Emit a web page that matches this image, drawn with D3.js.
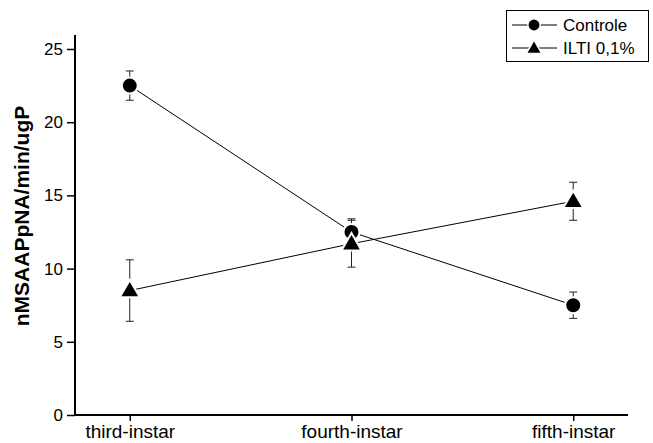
<!DOCTYPE html>
<html>
<head>
<meta charset="utf-8">
<script src="https://cdn.jsdelivr.net/npm/d3@7"></script>
<style>
  body { margin: 0; background: #fff; }
  text { font-family: "Liberation Sans", Arial, sans-serif; fill: #000; }
</style>
</head>
<body>
<div class="chart"></div>
<script>
// Data
const stages = ["third-instar", "fourth-instar", "fifth-instar"];
const controleValues = [22.5, 12.5, 7.5];
const controleErrors = [1.0, 0.9, 0.9];
const iltiValues = [8.5, 11.7, 14.6];
const iltiErrors = [2.1, 1.6, 1.3];
const yTicks = [0, 5, 10, 15, 20, 25];

const width = 653, height = 443;
const margin = { left: 75, right: 25, top: 35, bottom: 29 };

const svg = d3.select(".chart")
  .append("svg")
  .attr("width", width)
  .attr("height", height);

const x = d3.scalePoint()
  .domain(stages)
  .range([margin.left, width - margin.right])
  .padding(0.247);

const y = d3.scaleLinear()
  .domain([0, 26])
  .range([415, 415 - 26 * 14.64]);

// Axes
const yAxis = svg.append("g")
  .attr("transform", `translate(${margin.left},0)`)
  .call(d3.axisLeft(y).tickValues(yTicks).tickSize(8).tickPadding(4));
yAxis.select(".domain").attr("d", `M0,${y(0)}V${margin.top}`).attr("stroke-width", 2);
yAxis.selectAll(".tick line").attr("stroke-width", 1.5);
yAxis.selectAll("text").style("font-size", "17px");

const xAxis = svg.append("g")
  .attr("transform", `translate(0,${y(0)})`)
  .call(d3.axisBottom(x).tickSize(6).tickPadding(4));
xAxis.select(".domain").attr("d", `M${margin.left},0H${width - margin.right}`).attr("stroke-width", 2);
xAxis.selectAll(".tick line").attr("stroke-width", 1.5);
xAxis.selectAll("text").style("font-size", "19px");

svg.append("text")
  .attr("transform", `translate(29,216) rotate(-90)`)
  .attr("text-anchor", "middle")
  .style("font-size", "21px")
  .style("font-weight", "bold")
  .text("nMSAAPpNA/min/ugP");

// Series
const series = [
  { name: "Controle", values: controleValues, errors: controleErrors, shape: d3.symbolCircle, size: 154 },
  { name: "ILTI 0,1%", values: iltiValues, errors: iltiErrors, shape: d3.symbolTriangle, size: 120 }
];

const line = d3.line()
  .x((d, i) => x(stages[i]))
  .y(d => y(d));

series.forEach(s => {
  svg.append("path")
    .attr("d", line(s.values))
    .attr("fill", "none")
    .attr("stroke", "#000")
    .attr("stroke-width", 1);
});

series.forEach(s => {
  const g = svg.append("g");
  s.values.forEach((v, i) => {
    const cx = x(stages[i]);
    g.append("line")
      .attr("x1", cx).attr("x2", cx)
      .attr("y1", y(v - s.errors[i])).attr("y2", y(v + s.errors[i]))
      .attr("stroke", "#222");
    [v - s.errors[i], v + s.errors[i]].forEach(e => {
      g.append("line")
        .attr("x1", cx - 4).attr("x2", cx + 4)
        .attr("y1", y(e)).attr("y2", y(e))
        .attr("stroke", "#222");
    });
  });
});

series.forEach(s => {
  s.values.forEach((v, i) => {
    const dy = s.shape === d3.symbolTriangle ? 1 : 0;
    svg.append("path")
      .attr("d", d3.symbol().type(s.shape).size(s.size)())
      .attr("transform", `translate(${x(stages[i])},${y(v) + dy})`)
      .attr("fill", "#000")
      .attr("stroke", "#fff")
      .attr("stroke-width", 4)
      .style("paint-order", "stroke");
  });
});

// Legend
const legend = svg.append("g").attr("class", "legend");
legend.append("rect")
  .attr("x", 506.5).attr("y", 10.5)
  .attr("width", 142).attr("height", 51)
  .attr("fill", "#fff")
  .attr("stroke", "#000");

series.forEach((s, i) => {
  const ly = 25 + i * 23;
  legend.append("line")
    .attr("x1", 512).attr("x2", 557)
    .attr("y1", ly).attr("y2", ly)
    .attr("stroke", "#000");
  legend.append("path")
    .attr("d", d3.symbol().type(s.shape).size(s.size * 0.6)())
    .attr("transform", `translate(534,${ly + (i ? 1 : 0)})`)
    .attr("fill", "#000")
    .attr("stroke", "#fff")
    .attr("stroke-width", 3)
    .style("paint-order", "stroke");
  legend.append("text")
    .attr("x", 563)
    .attr("y", ly + 6)
    .style("font-size", "17px")
    .text(s.name);
});
</script>
</body>
</html>
